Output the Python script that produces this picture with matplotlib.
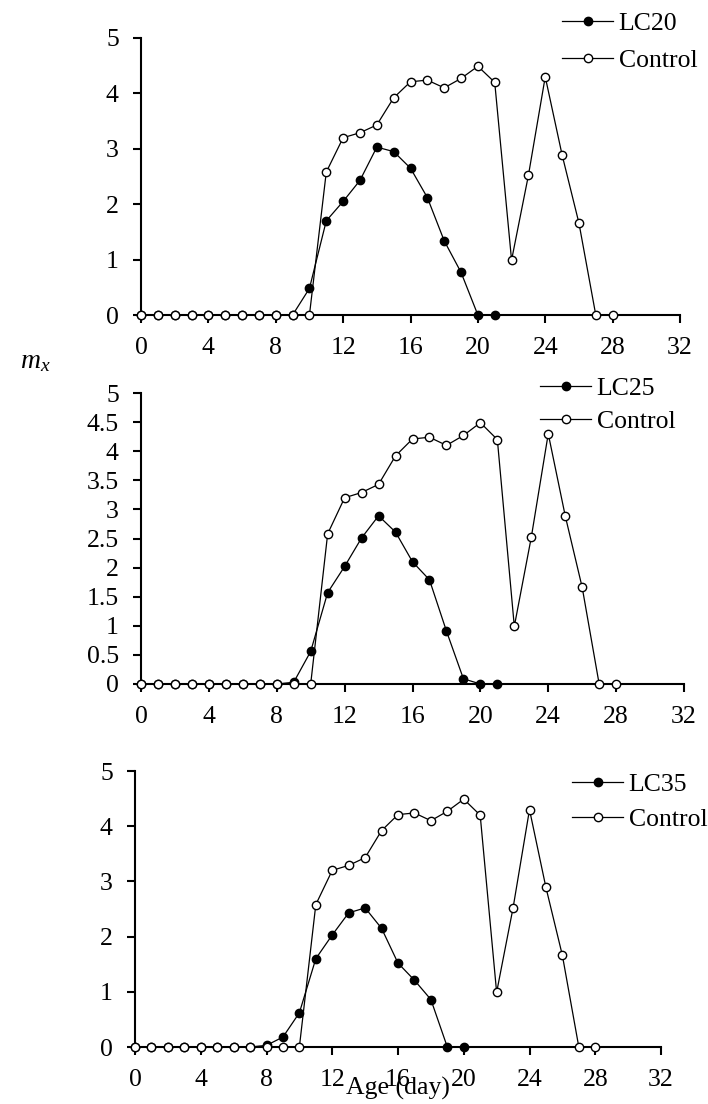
import matplotlib
matplotlib.use("Agg")
import matplotlib.pyplot as plt
from matplotlib.ticker import FuncFormatter

plt.rcParams['font.family'] = ['Liberation Serif', 'DejaVu Serif']
plt.rcParams['mathtext.fontset'] = 'custom'
plt.rcParams['mathtext.rm'] = 'Liberation Serif'
plt.rcParams['mathtext.it'] = 'Liberation Serif:italic'

# ---- data ----
age_control = list(range(0, 29))
control = [0, 0, 0, 0, 0, 0, 0, 0, 0, 0, 0,
           2.58, 3.20, 3.29, 3.43, 3.92, 4.21, 4.24, 4.10, 4.27, 4.49,
           4.20, 0.99, 2.52, 4.30, 2.89, 1.66, 0, 0]

age_lc20 = list(range(0, 22))
lc20 = [0, 0, 0, 0, 0, 0, 0, 0, 0, 0,
        0.48, 1.70, 2.05, 2.43, 3.03, 2.95, 2.65, 2.12, 1.34, 0.77, 0, 0]

age_lc25 = list(range(0, 22))
lc25 = [0, 0, 0, 0, 0, 0, 0, 0, 0, 0.03,
        0.56, 1.57, 2.02, 2.51, 2.89, 2.61, 2.10, 1.79, 0.91, 0.09, 0, 0]

age_lc35 = list(range(0, 21))
lc35 = [0, 0, 0, 0, 0, 0, 0, 0, 0.03, 0.18,
        0.62, 1.60, 2.03, 2.43, 2.52, 2.15, 1.52, 1.21, 0.86, 0, 0]

x_ticks = [0, 4, 8, 12, 16, 20, 24, 28, 32]
y_ticks_int = [0, 1, 2, 3, 4, 5]
y_ticks_half = [0, 0.5, 1, 1.5, 2, 2.5, 3, 3.5, 4, 4.5, 5]

W, H = 708, 1104
fig = plt.figure(figsize=(W / 100, H / 100), dpi=100)

FS = 18.5

def px_axes(l, r, t, b):
    return fig.add_axes([l / W, 1 - b / H, (r - l) / W, (b - t) / H])

panels = [
    dict(box=(141, 680, 38, 315), x=age_lc20, y=lc20, label='LC20', yt=y_ticks_int,
         leg=(562, 42), ls=0.55),
    dict(box=(141, 684, 393, 684), x=age_lc25, y=lc25, label='LC25', yt=y_ticks_half,
         leg=(540, 405), ls=0.38),
    dict(box=(135, 661, 771, 1047), x=age_lc35, y=lc35, label='LC35', yt=y_ticks_int,
         leg=(572, 802), ls=0.45),
]

for p in panels:
    ax = px_axes(*p['box'])
    ax.plot(p['x'], p['y'], color='black', lw=0.9, marker='o', ms=6,
            mfc='black', mec='black', mew=1, clip_on=False, zorder=3,
            label=p['label'])
    ax.plot(age_control, control, color='black', lw=0.9, marker='o', ms=6,
            mfc='white', mec='black', mew=1, clip_on=False, zorder=4,
            label='Control')
    ax.set_xlim(0, 32)
    ax.set_ylim(0, 5)
    ax.set_xticks(x_ticks)
    ax.set_yticks(p['yt'])
    ax.yaxis.set_major_formatter(FuncFormatter(lambda v, pos: f'{v:g}'))
    for s in ['top', 'right']:
        ax.spines[s].set_visible(False)
    for s in ['left', 'bottom']:
        ax.spines[s].set_linewidth(1.5)
        ax.spines[s].set_zorder(2)
    ax.tick_params(direction='out', length=6, width=1.5, labelsize=FS, pad=10)
    lx, ly = p['leg']
    ax.legend(loc='center left', bbox_to_anchor=(lx / W, 1 - ly / H),
              bbox_transform=fig.transFigure, frameon=False, borderpad=0,
              borderaxespad=0, handlelength=2.0, handletextpad=0.2,
              labelspacing=p['ls'], fontsize=FS)

fig.text(35 / W, 1 - 362 / H, r'$m_x$', fontsize=20, ha='center', va='center')
fig.text(398 / W, 1 - 1088 / H, 'Age (day)', fontsize=FS, ha='center', va='center')

fig.savefig('out.png', dpi=100)
